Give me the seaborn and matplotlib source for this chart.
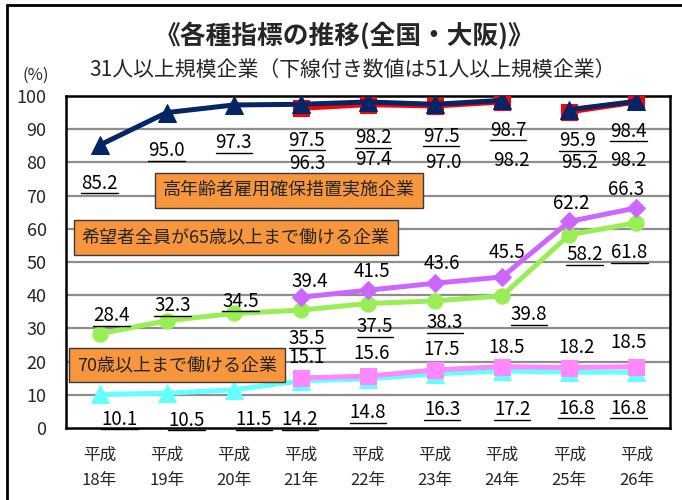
import numpy as np
import pandas as pd
import seaborn as sns
import matplotlib
matplotlib.use("Agg")
import matplotlib.pyplot as plt
from matplotlib.lines import Line2D

# ---------------- data ----------------
years = ["平成\n18年", "平成\n19年", "平成\n20年", "平成\n21年", "平成\n22年",
         "平成\n23年", "平成\n24年", "平成\n25年", "平成\n26年"]
# 高年齢者雇用確保措置実施企業
kakuho_51 = [85.2, 95.0, 97.3, 97.5, 98.2, 97.5, 98.7, 95.9, 98.4]
kakuho_31 = [np.nan, np.nan, np.nan, 96.3, 97.4, 97.0, 98.2, 95.2, 98.2]
# 希望者全員が65歳以上まで働ける企業
kibou_51 = [28.4, 32.3, 34.5, 35.5, 37.5, 38.3, 39.8, 58.2, 61.8]
kibou_31 = [np.nan, np.nan, np.nan, 39.4, 41.5, 43.6, 45.5, 62.2, 66.3]
# 70歳以上まで働ける企業
over70_51 = [10.1, 10.5, 11.5, 14.2, 14.8, 16.3, 17.2, 16.8, 16.8]
over70_31 = [np.nan, np.nan, np.nan, 15.1, 15.6, 17.5, 18.5, 18.2, 18.5]
# line segments (kakuho series is broken between 24年 and 25年)
kakuho_seg = [0, 0, 0, 0, 0, 0, 0, 1, 1]

title = "《各種指標の推移(全国・大阪)》"
subtitle = "31人以上規模企業（下線付き数値は51人以上規模企業）"
box_labels = ["高年齢者雇用確保措置実施企業", "希望者全員が65歳以上まで働ける企業", "70歳以上まで働ける企業"]

# ---------------- style ----------------
sns.set_theme(style="white")
plt.rcParams['font.family'] = ['Noto Sans CJK JP', 'DejaVu Sans']

W, H, DPI = 682, 500, 100
fig = plt.figure(figsize=(W / DPI, H / DPI), dpi=DPI)
ax = fig.add_axes([66 / W, 1 - 428 / H, (670 - 66) / W, (428 - 96) / H])

x = np.arange(len(years))
df = pd.DataFrame({"x": x, "k51": kakuho_51, "k31": kakuho_31, "seg": kakuho_seg,
                   "h51": kibou_51, "h31": kibou_31, "o51": over70_51, "o31": over70_31})

NAVY = "#062566"
RED = "#FF0000"
GREEN = "#99EE55"
PURPLE = "#CC66FF"
CYAN = "#66FFFF"
PINK = "#FF88FF"
LW = 3.6

for yy in range(10, 100, 10):
    ax.axhline(yy, color="#8E8E8E", lw=1.6, zorder=0)


def draw(col, color, marker, ms, z, units=None):
    d = df.dropna(subset=[col])
    kw = dict(data=d, x="x", y=col, color=color, marker=marker, markersize=ms,
              markeredgecolor=color, linewidth=LW, ax=ax, zorder=z, legend=False)
    if units is not None:
        kw.update(units=units, estimator=None)
    sns.lineplot(**kw)


draw("k31", RED, "s", 11.5, 3, units="seg")
draw("k51", NAVY, "^", 13, 4, units="seg")
draw("h51", GREEN, "o", 11, 3)
draw("h31", PURPLE, "D", 9, 4)
draw("o51", CYAN, "^", 13, 3)
draw("o31", PINK, "s", 11.5, 4)

ax.set_xlim(-0.5, 8.5)
ax.set_ylim(0, 100)
ax.set_yticks(range(0, 101, 10))
ax.set_xticks(x)
ax.set_xticklabels(years, fontsize=12, linespacing=1.6)
ax.tick_params(axis="y", labelsize=13, pad=14, length=0)
ax.tick_params(axis="x", pad=13.5, length=0)
ax.set_xlabel("")
ax.set_ylabel("")
for s in ax.spines.values():
    s.set_color("black")
    s.set_linewidth(1.8)

# ---------------- data labels ----------------
LABEL_FS = 13.5
SHIFT = 3  # px: digits sit above the text-box centre
underlined = []


def labels(vals, dxs, dys, under):
    j = 0
    for i, v in enumerate(vals):
        if np.isnan(v):
            continue
        t = ax.annotate(f"{v:.1f}", (x[i], v),
                        xytext=(dxs[j] * 0.72, -(dys[j] + SHIFT) * 0.72),
                        textcoords="offset points", ha="center", va="center",
                        fontsize=LABEL_FS, color="black", zorder=6,
                        family=['Noto Sans CJK JP', 'DejaVu Sans'])
        if under:
            underlined.append(t)
        j += 1


labels(kakuho_51, [0, 0, 0, 6, 5, 6, 6, 8, -8], [35, 35, 35, 33, 33, 29, 27, 28, 27], True)
labels(kakuho_31, [6, 5, 8, 9, 10, -8], [52, 52, 54, 56, 48, 56], False)
labels(kibou_51, [12, 6, 7, 6, 7, 10, 27, 15, -7], [-21, -18, -15, 25, 20, 19, 16, 17, 27], True)
labels(kibou_31, [9, 4, 7, 5, 2, -10], [-19, -22, -23, -27, -21, -21], False)
labels(over70_51, [20, 20, 20, -1, 0, 7, 10, 7, -8], [22, 24, 27, 36, 31, 33, 36, 33, 33], True)
labels(over70_31, [6, 4, 7, 4, 7, -8], [-23, -26, -23, -22, -23, -27], False)

# ---------------- boxes ----------------
box_kw = dict(boxstyle="square,pad=0.45", facecolor="#F7963C", edgecolor="#3A3A3A", linewidth=1.0)
ax.text(2.82, 71.5, box_labels[0], fontsize=13, ha="center", va="center", bbox=box_kw, zorder=7)
ax.text(2.03, 57.4, box_labels[1], fontsize=13, ha="center", va="center", bbox=box_kw, zorder=7)
ax.text(1.155, 19.0, box_labels[2], fontsize=13, ha="center", va="center", bbox=box_kw, zorder=7)

# ---------------- titles ----------------
fig.text(345 / W, 1 - 36 / H, title, fontsize=18.5, fontweight="bold", ha="center", va="center")
fig.text(353 / W, 1 - 70 / H, subtitle, fontsize=15, ha="center", va="center")
fig.text(36 / W, 1 - 75 / H, "(%)", fontsize=12, ha="center", va="center")

# figure frame (left and top edges)
fig.add_artist(Line2D([7 / W, 7 / W], [0, 1 - 5 / H], transform=fig.transFigure,
                      color="black", linewidth=2.0))
fig.add_artist(Line2D([7 / W, 1], [1 - 5 / H, 1 - 5 / H], transform=fig.transFigure,
                      color="black", linewidth=2.0))

# underlines
fig.canvas.draw()
r = fig.canvas.get_renderer()
for t in underlined:
    bb = t.get_window_extent(r)
    y0 = bb.y0 + 0.5
    fig.add_artist(Line2D([bb.x0 / W, bb.x1 / W], [y0 / H, y0 / H], transform=fig.transFigure,
                          color="black", linewidth=1.0, zorder=8))

fig.savefig("out.png", dpi=DPI)
